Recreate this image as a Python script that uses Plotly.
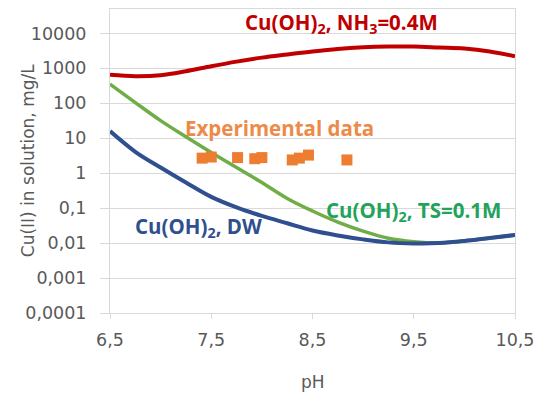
import numpy as np
import plotly.graph_objects as go

# pH grid shared by the model curves
ph = [6.5, 6.75, 7.0, 7.25, 7.5, 7.75, 8.0, 8.25, 8.5, 8.75,
      9.0, 9.25, 9.5, 9.75, 10.0, 10.25, 10.5]

# Cu(II) solubility, mg/L
cu_nh3 = [660, 600, 640, 830, 1150, 1560, 2030, 2500, 3050, 3600,
          4000, 4200, 4200, 3950, 3700, 3050, 2230]
cu_ts = [355, 105, 32, 11, 3.9, 1.45, 0.54, 0.19, 0.083, 0.040,
         0.022, 0.0138, 0.0110, 0.0101, 0.0115, 0.0140, 0.0170]
cu_dw = [16, 4.1, 1.45, 0.54, 0.21, 0.105, 0.060, 0.037, 0.023, 0.0166,
         0.0128, 0.0105, 0.0098, 0.0100, 0.0115, 0.0140, 0.0170]

# measured points
exp_ph = [7.41, 7.50, 7.76, 7.93, 8.00, 8.30, 8.37, 8.46, 8.84]
exp_cu = [2.7, 2.9, 2.8, 2.6, 2.8, 2.4, 2.7, 3.3, 2.4]

x_ticks = [6.5, 7.5, 8.5, 9.5, 10.5]
x_labels = ["6,5", "7,5", "8,5", "9,5", "10,5"]
y_ticks = [1e-4, 1e-3, 1e-2, 1e-1, 1, 10, 100, 1000, 10000]
y_labels = ["0,0001", "0,001", "0,01", "0,1", "1", "10", "100", "1000", "10000"]

RED = "#C00000"
GREEN = "#70AD47"
BLUE = "#2F4F8F"
ORANGE = "#ED7D31"
GRAY_TEXT = "#595959"
GRID = "#D9D9D9"

fig = go.Figure()
fig.add_trace(go.Scatter(x=ph, y=cu_ts, mode="lines",
                         line=dict(color=GREEN, width=3.5, shape="spline")))
fig.add_trace(go.Scatter(x=ph, y=cu_dw, mode="lines",
                         line=dict(color=BLUE, width=4, shape="spline")))
fig.add_trace(go.Scatter(x=ph, y=cu_nh3, mode="lines",
                         line=dict(color=RED, width=4, shape="spline")))
fig.add_trace(go.Scatter(x=exp_ph, y=exp_cu, mode="markers",
                         marker=dict(symbol="square", size=11, color=ORANGE)))

tick_font = dict(family="DejaVu Sans", size=17.5, color=GRAY_TEXT)
label_font = "Open Sans"
label_size = 20.5

fig.update_xaxes(range=[6.5, 10.5], tickvals=x_ticks, ticktext=x_labels,
                 showgrid=False, zeroline=False, showline=True, mirror=True,
                 linecolor=GRID, linewidth=1, ticks="outside", ticklen=5,
                 tickcolor=GRID, tickfont=tick_font, ticklabelstandoff=6)
fig.update_yaxes(type="log", range=[-4, np.log10(50000)], tickvals=y_ticks,
                 ticktext=y_labels, showgrid=True, gridcolor=GRID, gridwidth=1,
                 zeroline=False, showline=True, mirror=True, linecolor=GRID,
                 linewidth=1, ticks="outside", ticklen=9, tickcolor=GRID,
                 tickfont=tick_font, ticklabelstandoff=10)

annotations = [
    dict(x=8.79, y=4.31, text="Cu(OH)<sub>2</sub>, NH<sub>3</sub>=0.4M",
         font=dict(family=label_font, size=label_size, color=RED, weight="bold")),
    dict(x=8.17, y=1.30, text="Experimental data",
         font=dict(family=label_font, size=label_size, color="#EE8A48", weight="bold")),
    dict(x=9.50, y=-1.07, text="Cu(OH)<sub>2</sub>, TS=0.1M",
         font=dict(family=label_font, size=label_size, color="#22A35A", weight="bold")),
    dict(x=7.37, y=-1.55, text="Cu(OH)<sub>2</sub>, DW",
         font=dict(family=label_font, size=label_size, color=BLUE, weight="bold")),
]
for a in annotations:
    a.update(xref="x", yref="y", showarrow=False, xanchor="center", yanchor="middle")

annotations += [
    dict(x=-0.202, y=0.5, xref="paper", yref="paper", text="Cu(II) in solution, mg/L",
         textangle=-90, showarrow=False, xanchor="center", yanchor="middle",
         font=dict(family="DejaVu Sans", size=17, color=GRAY_TEXT)),
    dict(x=0.5, y=-0.226, xref="paper", yref="paper", text="pH",
         showarrow=False, xanchor="center", yanchor="middle",
         font=dict(family="DejaVu Sans", size=17, color=GRAY_TEXT)),
]

fig.update_layout(width=542, height=397, autosize=False,
                  margin=dict(l=110, r=21, t=8, b=84),
                  paper_bgcolor="white", plot_bgcolor="white",
                  showlegend=False, annotations=annotations)

fig.write_html("out.html")
